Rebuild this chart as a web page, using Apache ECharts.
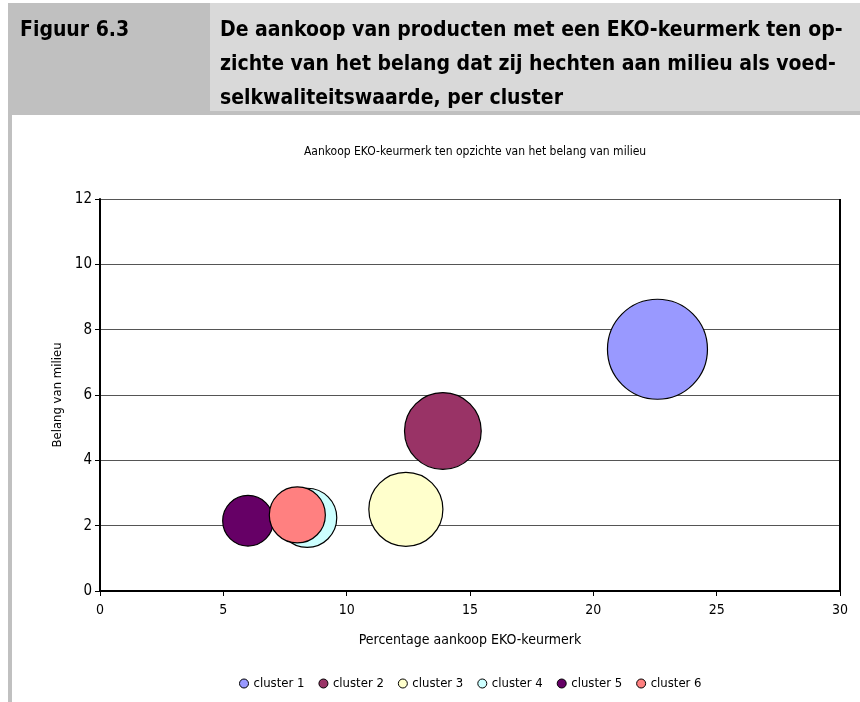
<!DOCTYPE html>
<html>
<head>
<meta charset="utf-8">
<script src="https://cdn.jsdelivr.net/npm/echarts@6/dist/echarts.min.js"></script>
<style>
  html, body { margin: 0; padding: 0; background: #fff; }
  #main { width: 860px; height: 702px; }
</style>
</head>
<body>
<div id="main"></div>
<script>
// data
const clusters = ['cluster 1', 'cluster 2', 'cluster 3', 'cluster 4', 'cluster 5', 'cluster 6']
const ekoPct = [22.6, 13.9, 12.4, 8.4, 6.0, 8.0]       // x: percentage aankoop EKO-keurmerk
const milieu = [7.4, 4.9, 2.5, 2.24, 2.15, 2.33]      // y: belang van milieu
const bubbleSize = [22.6, 13.3, 12.4, 7.9, 5.8, 7.1]  // bubble size (area)
const colors = ['#9999ff', '#993366', '#ffffcc', '#ccffff', '#660066', '#ff8080']
const xTicks = [0, 5, 10, 15, 20, 25, 30]
const yTicks = [0, 2, 4, 6, 8, 10, 12]

const FONT = "'Liberation Sans Narrow', 'DejaVu Sans Condensed', 'Liberation Sans', sans-serif"
const maxSize = Math.max(...bubbleSize)

function chartsInit(element, option){
    if(element && option){
        const charts = echarts.init(element)
        charts.setOption(option)
        return charts
    }
    return null
}

const series = clusters.map((name, i) => ({
    name,
    type: 'scatter',
    data: [[ekoPct[i], milieu[i], bubbleSize[i]]],
    symbolSize: v => 100 * Math.sqrt(v[2] / maxSize),
    itemStyle: { color: colors[i], borderColor: '#000', borderWidth: 1.2, opacity: 1 },
    emphasis: { disabled: true }
}))

const option = {
    animation: false,
    backgroundColor: '#fff',
    title: {
        text: 'Aankoop EKO-keurmerk ten opzichte van het belang van milieu',
        left: 470, top: 141, textAlign: 'center',
        textStyle: { fontFamily: FONT, fontSize: 12, fontWeight: 'normal', color: '#000' }
    },
    legend: {
        data: clusters,
        left: 234, top: 672, width: 620,
        itemWidth: 9, itemHeight: 9, itemGap: 14,
        icon: 'circle',
        itemStyle: { borderColor: '#000', borderWidth: 1 },
        textStyle: { fontFamily: FONT, fontSize: 13, color: '#000' }
    },
    grid: { left: 100, right: 20, top: 199, bottom: 111 },
    xAxis: {
        type: 'value', min: xTicks[0], max: xTicks[xTicks.length - 1], interval: 5,
        name: 'Percentage aankoop EKO-keurmerk', nameLocation: 'middle', nameGap: 42,
        nameTextStyle: { fontFamily: FONT, fontSize: 14, color: '#000' },
        axisLine: { lineStyle: { color: '#000', width: 2 } },
        axisTick: { show: true, length: 5, lineStyle: { color: '#000' } },
        axisLabel: { fontFamily: FONT, fontSize: 14, color: '#000', margin: 12 },
        splitLine: { show: false }
    },
    yAxis: {
        type: 'value', min: yTicks[0], max: yTicks[yTicks.length - 1], interval: 2,
        name: 'Belang van milieu', nameLocation: 'middle', nameGap: 30, nameRotate: 90,
        nameTextStyle: { fontFamily: FONT, fontSize: 13, color: '#000' },
        axisLine: { lineStyle: { color: '#000', width: 2 } },
        axisTick: { show: true, length: 5, lineStyle: { color: '#000' } },
        axisLabel: { fontFamily: FONT, fontSize: 15, color: '#000', margin: 8 },
        splitLine: { show: true, lineStyle: { color: '#555', width: 1 } }
    },
    graphic: [
        // header block
        { type: 'rect', left: 8, top: 3, shape: { width: 852, height: 112 }, style: { fill: '#c0c0c0' }, silent: true },
        { type: 'rect', left: 210, top: 3, shape: { width: 650, height: 108 }, style: { fill: '#d9d9d9' }, silent: true },
        { type: 'rect', left: 8, top: 115, shape: { width: 4, height: 587 }, style: { fill: '#c0c0c0' }, silent: true },
        { type: 'text', left: 20, top: 14, style: { text: 'Figuur 6.3', font: 'bold 21px ' + FONT, lineHeight: 34, fill: '#000' }, silent: true },
        { type: 'text', left: 220, top: 14, style: {
            text: 'De aankoop van producten met een EKO-keurmerk ten op-\nzichte van het belang dat zij hechten aan milieu als voed-\nselkwaliteitswaarde, per cluster',
            font: 'bold 21px ' + FONT, lineHeight: 34, fill: '#000' }, silent: true },
        // plot border right side
        { type: 'line', shape: { x1: 840, y1: 199, x2: 840, y2: 591 }, style: { stroke: '#000', lineWidth: 2 }, silent: true, z: 1 }
    ],
    series
}

chartsInit(document.getElementById('main'), option)
</script>
</body>
</html>
